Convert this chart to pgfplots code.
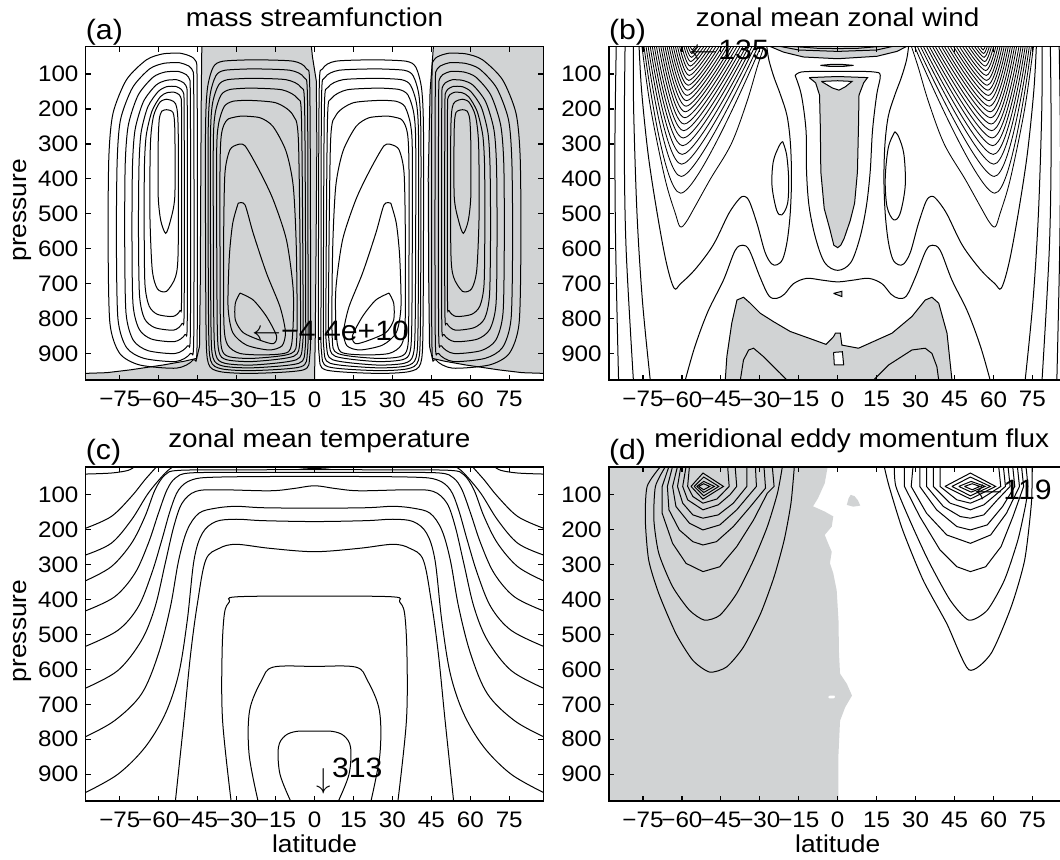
\documentclass[border=0pt]{standalone}
\usepackage{fontspec}
\setmainfont{Liberation Sans}[FakeStretch=1.08]
\usepackage{pgfplots}
\pgfplotsset{compat=1.18}
\definecolor{shade}{RGB}{209,211,212}
\newcommand\tickf{\fontsize{11.2}{13}\selectfont}
\newcommand\labf{\fontsize{12.2}{14}\selectfont}
\newcommand\titf{\fontsize{12.9}{15}\selectfont}
\newcommand\tagf{\fontsize{14}{16}\selectfont}
\newcommand\annf{\fontsize{14}{16}\selectfont}
\pgfplotsset{
  panel/.style={
    scale only axis, width=229pt, height=166.75pt, anchor=south west,
    xmin=-88.2, xmax=88.2, ymin=21, ymax=976, y dir=reverse,
    xtick={-75,-60,-45,-30,-15,0,15,30,45,60,75},
    xticklabels={−75,−60,−45,−30,−15,0,15,30,45,60,75},
    ytick={100,200,300,400,500,600,700,800,900},
    tick align=inside, major tick length=2.6pt,
    axis line style={line width=0.9pt},
    every tick/.style={black, line width=0.6pt},
    ticklabel style={font=\tickf},
    xticklabel style={yshift=-2.2pt},
    /pgf/number format/assume math mode=true,
    axis on top,
  },
  cl/.style={black, line width=0.5pt, smooth, tension=0.55, mark=none},
  cj/.style={black, line width=0.42pt, smooth, tension=0.55, mark=none},
  pl/.style={black, line width=0.5pt, sharp plot, mark=none},
  gf/.style={fill=shade, draw=none, mark=none},
  gfd/.style={fill=shade, draw=black, line width=0.5pt, mark=none},
  wf/.style={fill=white, draw=black, line width=0.5pt, mark=none},
}
\begin{document}
\begin{tikzpicture}
\path[use as bounding box] (0,0) rectangle (530pt,429.5pt);
% ================= (a) =================
\begin{axis}[panel, at={(42.75pt,239.5pt)}, cl/.append style={tension=0.45}]
\addplot[gf] coordinates {(-88.2,976) (-88.2,957) (-80,955) (-71,947) (-58.3,933) (-50,922) (-45.4,914) (-44.3,880) (-44,700) (-43.8,400) (-43.6,150) (-43.4,21) (-1.2,21) (-0.8,50) (0.7,120) (0.9,300) (0.6,600) (0.3,850) (0,976)};
\addplot[gf] coordinates {(45.8,21) (88.2,21) (88.2,957) (80,955) (71,947) (58.3,933) (50,922) (45.4,914) (44.3,880) (44,700) (43.8,400) (44.5,150) (45.8,21)};
\addplot[pl] coordinates {(-88.2,957) (-80,955) (-71,947) (-58.3,933) (-50,922) (-45.4,914) (-44.3,880) (-44,700) (-43.8,400) (-43.6,150) (-43.4,21)};
\addplot[pl] coordinates {(-1.2,21) (-0.8,50) (0.7,120) (0.9,300) (0.6,600) (0.3,850) (0,976)};
\addplot[pl] coordinates {(88.2,957) (80,955) (71,947) (58.3,933) (50,922) (45.4,914) (44.3,880) (44,700) (43.8,400) (44.5,150) (45.8,21)};
% southern positive cell
\addplot[cl] coordinates {(-51.9,40) (-46.1,59) (-45.2,145) (-45.2,861) (-46.7,918) (-53.1,942) (-67.3,933) (-75,900) (-78.8,813) (-79.5,575) (-79.2,336) (-77.6,212) (-72.4,116) (-64.7,59) (-58.3,42) (-51.9,40)};
\addplot[cl] coordinates {(-52.3,67) (-47.3,85) (-46.5,166) (-46.5,846) (-47.8,900) (-53.4,923) (-65.7,914) (-72.4,883) (-75.7,801) (-76.3,575) (-76,348) (-74.7,230) (-70.1,139) (-63.5,85) (-57.9,69) (-52.3,67)};
\addplot[cl] coordinates {(-52.7,92) (-48.5,109) (-47.8,186) (-47.8,827) (-48.9,878) (-53.6,900) (-64.1,892) (-69.8,862) (-72.6,784) (-73.1,571) (-72.9,357) (-71.7,246) (-67.9,160) (-62.2,109) (-57.5,94) (-52.7,92)};
\addplot[cl] coordinates {(-53.2,116) (-49.6,132) (-49,203) (-49,799) (-49.9,846) (-53.9,866) (-62.7,859) (-67.5,831) (-69.9,759) (-70.3,561) (-70.1,362) (-69.1,259) (-65.9,179) (-61.1,132) (-57.1,118) (-53.2,116)};
\addplot[cl] coordinates {(-53.6,135) (-50.7,150) (-50.2,216) (-50.2,770) (-51,814) (-54.2,833) (-61.5,826) (-65.5,800) (-67.4,733) (-67.8,549) (-67.6,364) (-66.8,268) (-64.2,194) (-60.2,150) (-56.9,136) (-53.6,135)};
\addplot[cl] coordinates {(-54,152) (-51.6,165) (-51.2,226) (-51.2,736) (-51.8,777) (-54.5,794) (-60.5,788) (-63.7,764) (-65.3,702) (-65.6,533) (-65.5,363) (-64.8,275) (-62.6,206) (-59.4,165) (-56.7,153) (-54,152)};
\addplot[cl] coordinates {(-57,172) (-53.5,185) (-52.5,260) (-52.5,600) (-53.5,680) (-57,722) (-60.5,715) (-62.5,660) (-63.4,500) (-63.2,300) (-62,220) (-59.5,180) (-57,172)};
\addplot[cl] coordinates {(-57,202) (-54.5,210) (-53.8,260) (-53.8,450) (-55.5,520) (-57.3,556) (-59.2,520) (-60.2,450) (-60.2,300) (-59.8,230) (-58.8,206) (-57,202)};
% northern negative cell
\addplot[cl] coordinates {(51.9,40) (46.1,59) (45.2,145) (45.2,861) (46.7,918) (53.1,942) (67.3,933) (75,900) (78.8,813) (79.5,575) (79.2,336) (77.6,212) (72.4,116) (64.7,59) (58.3,42) (51.9,40)};
\addplot[cl] coordinates {(52.3,67) (47.3,85) (46.5,166) (46.5,846) (47.8,900) (53.4,923) (65.7,914) (72.4,883) (75.7,801) (76.3,575) (76,348) (74.7,230) (70.1,139) (63.5,85) (57.9,69) (52.3,67)};
\addplot[cl] coordinates {(52.7,92) (48.5,109) (47.8,186) (47.8,827) (48.9,878) (53.6,900) (64.1,892) (69.8,862) (72.6,784) (73.1,571) (72.9,357) (71.7,246) (67.9,160) (62.2,109) (57.5,94) (52.7,92)};
\addplot[cl] coordinates {(53.2,116) (49.6,132) (49,203) (49,799) (49.9,846) (53.9,866) (62.7,859) (67.5,831) (69.9,759) (70.3,561) (70.1,362) (69.1,259) (65.9,179) (61.1,132) (57.1,118) (53.2,116)};
\addplot[cl] coordinates {(53.6,135) (50.7,150) (50.2,216) (50.2,770) (51,814) (54.2,833) (61.5,826) (65.5,800) (67.4,733) (67.8,549) (67.6,364) (66.8,268) (64.2,194) (60.2,150) (56.9,136) (53.6,135)};
\addplot[cl] coordinates {(54,152) (51.6,165) (51.2,226) (51.2,736) (51.8,777) (54.5,794) (60.5,788) (63.7,764) (65.3,702) (65.6,533) (65.5,363) (64.8,275) (62.6,206) (59.4,165) (56.7,153) (54,152)};
\addplot[cl] coordinates {(57,172) (53.5,185) (52.5,260) (52.5,600) (53.5,680) (57,722) (60.5,715) (62.5,660) (63.4,500) (63.2,300) (62,220) (59.5,180) (57,172)};
\addplot[cl] coordinates {(57,202) (54.5,210) (53.8,260) (53.8,450) (55.5,520) (57.3,556) (59.2,520) (60.2,450) (60.2,300) (59.8,230) (58.8,206) (57,202)};
% southern tropical negative cell
\addplot[cl] coordinates {(-23.6,59) (-8.2,63) (-3.1,85) (-1.8,150) (-1.5,766) (-1.8,905) (-4.3,947) (-23.6,957) (-36.4,952) (-40.9,928) (-41.8,813) (-42,288) (-41.3,145) (-39,80) (-35.2,63) (-23.6,59)};
\addplot[cl] coordinates {(-24,85) (-9.5,89) (-4,110) (-2.7,175) (-2.5,760) (-2.7,895) (-5.2,938) (-23.6,949) (-35.8,944) (-40,920) (-40.8,810) (-41,300) (-40.3,165) (-38,105) (-34.5,89) (-24,85)};
\addplot[cl] coordinates {(-24.5,112) (-11,116) (-5.2,138) (-3.8,200) (-3.4,755) (-3.6,885) (-6,928) (-23.6,941) (-35.2,936) (-39.1,912) (-39.9,805) (-40.1,310) (-39.4,190) (-37,132) (-33.5,116) (-24.5,112)};
\addplot[cl] coordinates {(-25,140) (-12.5,145) (-6.5,170) (-5,230) (-4.4,750) (-4.6,875) (-7,918) (-23.6,933) (-34.6,928) (-38,904) (-38.8,800) (-39,320) (-38.3,215) (-36,160) (-32.5,144) (-25,140)};
\addplot[cl] coordinates {(-26,175) (-15,182) (-8.5,215) (-6.2,290) (-5.4,745) (-5.6,865) (-8,908) (-23.6,923) (-33.8,918) (-36.8,895) (-37.5,795) (-37.7,340) (-37,245) (-34.8,193) (-31.5,178) (-26,175)};
\addplot[cl] coordinates {(-28,220) (-21,225) (-16,250) (-11,320) (-8.2,420) (-7,600) (-6.8,850) (-9,900) (-23.6,914) (-33,909) (-35.8,885) (-36.3,790) (-36.4,380) (-35.8,270) (-33.5,230) (-28,220)};
\addplot[cl] coordinates {(-30,303) (-26.8,305) (-21,380) (-15.9,460) (-10.8,575) (-8.2,718) (-8.4,842) (-10,895) (-18.5,904) (-28.7,900) (-33.5,875) (-34.9,813) (-35,575) (-34.5,384) (-32.6,317) (-30,303)};
\addplot[cl] coordinates {(-29.4,470) (-26.8,474) (-23.6,556) (-18.5,670) (-13.3,766) (-11.2,838) (-12.5,878) (-17.5,890) (-26.2,876) (-31.5,840) (-33.3,766) (-32.8,622) (-31.5,527) (-29.4,470)};
\addplot[cl] coordinates {(-28.7,727) (-23.6,747) (-18.5,794) (-14.6,850) (-15.9,872) (-21,862) (-27.5,840) (-30.5,804) (-30.5,756) (-28.7,727)};
% northern tropical positive cell
\addplot[cl] coordinates {(23.6,59) (8.2,63) (3.1,85) (1.8,150) (1.5,766) (1.8,905) (4.3,947) (23.6,957) (36.4,952) (40.9,928) (41.8,813) (42,288) (41.3,145) (39,80) (35.2,63) (23.6,59)};
\addplot[cl] coordinates {(24,85) (9.5,89) (4,110) (2.7,175) (2.5,760) (2.7,895) (5.2,938) (23.6,949) (35.8,944) (40,920) (40.8,810) (41,300) (40.3,165) (38,105) (34.5,89) (24,85)};
\addplot[cl] coordinates {(24.5,112) (11,116) (5.2,138) (3.8,200) (3.4,755) (3.6,885) (6,928) (23.6,941) (35.2,936) (39.1,912) (39.9,805) (40.1,310) (39.4,190) (37,132) (33.5,116) (24.5,112)};
\addplot[cl] coordinates {(25,140) (12.5,145) (6.5,170) (5,230) (4.4,750) (4.6,875) (7,918) (23.6,933) (34.6,928) (38,904) (38.8,800) (39,320) (38.3,215) (36,160) (32.5,144) (25,140)};
\addplot[cl] coordinates {(26,175) (15,182) (8.5,215) (6.2,290) (5.4,745) (5.6,865) (8,908) (23.6,923) (33.8,918) (36.8,895) (37.5,795) (37.7,340) (37,245) (34.8,193) (31.5,178) (26,175)};
\addplot[cl] coordinates {(28,220) (21,225) (16,250) (11,320) (8.2,420) (7,600) (6.8,850) (9,900) (23.6,914) (33,909) (35.8,885) (36.3,790) (36.4,380) (35.8,270) (33.5,230) (28,220)};
\addplot[cl] coordinates {(30,303) (26.8,305) (21,380) (15.9,460) (10.8,575) (8.2,718) (8.4,842) (10,895) (18.5,904) (28.7,900) (33.5,875) (34.9,813) (35,575) (34.5,384) (32.6,317) (30,303)};
\addplot[cl] coordinates {(29.4,470) (26.8,474) (23.6,556) (18.5,670) (13.3,766) (11.2,838) (12.5,878) (17.5,890) (26.2,876) (31.5,840) (33.3,766) (32.8,622) (31.5,527) (29.4,470)};
\addplot[cl] coordinates {(28.7,727) (23.6,747) (18.5,794) (14.6,850) (15.9,872) (21,862) (27.5,840) (30.5,804) (30.5,756) (28.7,727)};
\coordinate (a-tl) at (axis description cs:0,1);
\coordinate (a-tc) at (axis description cs:0.5,1);
\coordinate (a-ml) at (axis description cs:0,0.5);
\coordinate (a-ann) at (axis cs:-24.1,835);
\end{axis}
\node[anchor=base west, inner sep=0, font=\tagf] at ([yshift=3.7pt]a-tl) {(a)};
\node[anchor=base, inner sep=0, font=\titf] at ([yshift=9.85pt]a-tc) {mass streamfunction};
\node[anchor=base, inner sep=0, rotate=90, font=\labf] at ([xshift=-29.25pt,yshift=1.5pt]a-ml) {pressure};
\node[anchor=west, inner sep=0, font=\annf] at (a-ann) {$\leftarrow$−4.4e+10};
% ================= (b) =================
\begin{axis}[panel, at={(304.35pt,239.5pt)}]
\addplot[gfd] coordinates {(-26,21) (-20.9,37) (-13.2,51) (0,56) (15.1,49) (22.8,35) (26.5,21)};
\addplot[pl] coordinates {(-22,21) (-15,31) (0,35) (15,31) (21,21)};
\addplot[pl] coordinates {(-17,21) (-8,26) (0,27) (8,26) (16,21)};
\addplot[gfd] coordinates {(-6.7,75) (-3,72.5) (2,72.5) (6.1,75) (2,78) (-3,78) (-6.7,75)};
\addplot[gfd] coordinates {(-11,110) (-4,108) (0,107) (4,108) (11.5,110) (10,125) (8.2,160) (8,250) (7.6,380) (6.5,470) (4.8,520) (2.5,570) (1.2,590) (0,597) (-1.5,590) (-3,545) (-5.2,485) (-6.5,380) (-6.7,250) (-7,160) (-8.5,125) (-11,110)};
\addplot[wf] coordinates {(-6.3,121) (0,119) (5.5,121) (3,136) (0.5,146) (-2,140) (-6.3,121)};
\addplot[gfd] coordinates {(-43.3,976) (-42.7,909) (-40.8,813) (-38.8,747) (-36.3,739) (-33.7,756) (-29.8,785) (-24.7,809) (-18.3,837) (-9.3,861) (-4.5,874) (-1.6,852) (-0.9,842) (1,842) (1.6,876) (8,885) (20.9,842) (28.6,794) (33.7,747) (36.3,739) (38.9,756) (42.1,842) (44,976)};
\addplot[pl] coordinates {(-37.5,976) (-36.3,919) (-34.3,890) (-32.4,885) (-28.6,909) (-22.1,957) (-19.6,976)};
\addplot[pl] coordinates {(13.8,976) (19.6,933) (28.6,890) (33.7,885) (36.3,900) (38.2,938) (38.9,976)};
\addplot[wf] coordinates {(-1.6,897) (1.8,895) (2.3,933) (-1.3,933) (-1.6,897)};
\addplot[gfd] coordinates {(-1.6,728) (1.6,722) (1.6,737) (-1.6,728)};
% near-pole lines
\addplot[cl] coordinates {(-85.3,21) (-85.8,300) (-85.5,600) (-84.4,976)};
\addplot[cl] coordinates {(-81.9,21) (-82.2,300) (-81.5,600) (-78.7,976)};
\addplot[cl] coordinates {(-78.7,21) (-78.6,200) (-77.3,500) (-75.2,750) (-72.2,976)};
\addplot[cl] coordinates {(85.3,21) (85.8,300) (85.5,600) (84.4,976)};
\addplot[cl] coordinates {(81.9,21) (82.2,300) (81.5,600) (78.7,976)};
\addplot[cl] coordinates {(78.7,21) (78.6,200) (77.3,500) (75.2,750) (72.2,976)};
% wavy lines
\addplot[cl] coordinates {(-76.5,21) (-75.5,150) (-73,330) (-69.5,500) (-66,640) (-63,713) (-60.5,700) (-55,660) (-48,590) (-42,500) (-38,458) (-36,450) (-34,465) (-31,530) (-28,610) (-25.5,643) (-23.4,646) (-21.2,630) (-19.5,580) (-18.3,500) (-17.8,400) (-18.2,300) (-19.5,220) (-22,160) (-24.5,110) (-26.5,60) (-27.3,21)};
\addplot[cl] coordinates {(76.5,21) (75.5,150) (73,330) (69.5,500) (66,640) (63,713) (60.5,700) (55,660) (48,590) (42,500) (38,458) (36,450) (34,465) (31,530) (28,610) (25.5,643) (23.4,646) (21.2,630) (19.5,580) (18.3,500) (17.8,400) (18.2,300) (19.5,220) (22,160) (24.5,110) (26.5,60) (27.3,21)};
\addplot[cl] coordinates {(-58.7,976) (-55,880) (-50,780) (-44,690) (-39.5,605) (-36.5,590) (-34,605) (-30,680) (-26.5,735) (-23.4,742) (-20.5,730) (-17,700) (-12,685) (-6,690) (0,695) (6,690) (12,685) (17,700) (20.5,730) (23.4,742) (26.5,735) (30,680) (34,605) (36.5,590) (39.5,605) (44,690) (50,780) (55,880) (58.7,976)};
\addplot[cl] coordinates {(-16.4,104) (-14,94) (-6,92) (0,92) (6,92) (14,94) (16.4,104) (15,160) (13.4,262) (12.5,380) (11,480) (8.5,570) (5,640) (0,662) (-5,640) (-8.5,570) (-11,480) (-12,380) (-12.2,262) (-14,160) (-16.4,104)};
\addplot[cl] coordinates {(-21.2,293) (-19.7,330) (-18.9,400) (-19.3,470) (-21.5,503) (-23.5,490) (-25.3,420) (-24.8,350) (-22.5,305) (-21.2,293)};
\addplot[cl] coordinates {(22,265) (19.5,310) (18.3,400) (19,480) (21.5,517) (24,500) (26,420) (25.5,330) (23.5,280) (22,265)};
% southern jet
\addplot[cj] coordinates {(-75.4,21) (-72,200) (-66.5,400) (-62.5,500) (-60.7,537) (-58.5,525) (-55,480) (-49,400) (-41,300) (-35,180) (-31,80) (-28.4,21)};
\addplot[cj] coordinates {(-74.6,21) (-60.5,441) (-29.6,21)};
\addplot[cj] coordinates {(-73.8,21) (-60.3,393) (-30.7,21)};
\addplot[cj] coordinates {(-73,21) (-60.1,358) (-31.9,21)};
\addplot[cj] coordinates {(-72.2,21) (-59.9,330) (-33,21)};
\addplot[cj] coordinates {(-71.4,21) (-59.7,305) (-34.2,21)};
\addplot[cj] coordinates {(-70.6,21) (-59.5,283) (-35.3,21)};
\addplot[cj] coordinates {(-69.8,21) (-59.3,262) (-36.5,21)};
\addplot[cj] coordinates {(-68.9,21) (-59.1,243) (-37.6,21)};
\addplot[cj] coordinates {(-68.1,21) (-58.9,225) (-38.8,21)};
\addplot[cj] coordinates {(-67.3,21) (-58.7,208) (-40,21)};
\addplot[cj] coordinates {(-66.5,21) (-58.4,192) (-41.1,21)};
\addplot[cj] coordinates {(-65.7,21) (-58.2,176) (-42.3,21)};
\addplot[cj] coordinates {(-64.9,21) (-58,161) (-43.4,21)};
\addplot[cj] coordinates {(-64.1,21) (-57.8,146) (-44.6,21)};
\addplot[cj] coordinates {(-63.3,21) (-57.6,132) (-45.7,21)};
\addplot[cj] coordinates {(-62.5,21) (-57.4,118) (-46.9,21)};
\addplot[cj] coordinates {(-61.7,21) (-57.2,104) (-48.1,21)};
\addplot[cj] coordinates {(-60.9,21) (-57,90) (-49.2,21)};
\addplot[cj] coordinates {(-60,21) (-56.8,77) (-50.4,21)};
\addplot[cj] coordinates {(-59.2,21) (-56.6,64) (-51.5,21)};
\addplot[cj] coordinates {(-58.4,21) (-56.4,52) (-52.7,21)};
\addplot[cj] coordinates {(-57.6,21) (-56.2,41) (-53.8,21)};
\addplot[cj] coordinates {(-56.8,21) (-56,31) (-55,21)};
% northern jet
\addplot[cj] coordinates {(75.4,21) (72,200) (66.5,400) (62.5,500) (60.7,537) (58.5,525) (55,480) (49,400) (41,300) (35,180) (31,80) (28.4,21)};
\addplot[cj] coordinates {(74.6,21) (60.5,441) (29.6,21)};
\addplot[cj] coordinates {(73.8,21) (60.3,393) (30.7,21)};
\addplot[cj] coordinates {(73,21) (60.1,358) (31.9,21)};
\addplot[cj] coordinates {(72.2,21) (59.9,330) (33,21)};
\addplot[cj] coordinates {(71.4,21) (59.7,305) (34.2,21)};
\addplot[cj] coordinates {(70.6,21) (59.5,283) (35.3,21)};
\addplot[cj] coordinates {(69.8,21) (59.3,262) (36.5,21)};
\addplot[cj] coordinates {(68.9,21) (59.1,243) (37.6,21)};
\addplot[cj] coordinates {(68.1,21) (58.9,225) (38.8,21)};
\addplot[cj] coordinates {(67.3,21) (58.7,208) (40,21)};
\addplot[cj] coordinates {(66.5,21) (58.4,192) (41.1,21)};
\addplot[cj] coordinates {(65.7,21) (58.2,176) (42.3,21)};
\addplot[cj] coordinates {(64.9,21) (58,161) (43.4,21)};
\addplot[cj] coordinates {(64.1,21) (57.8,146) (44.6,21)};
\addplot[cj] coordinates {(63.3,21) (57.6,132) (45.7,21)};
\addplot[cj] coordinates {(62.5,21) (57.4,118) (46.9,21)};
\addplot[cj] coordinates {(61.7,21) (57.2,104) (48.1,21)};
\addplot[cj] coordinates {(60.9,21) (57,90) (49.2,21)};
\addplot[cj] coordinates {(60,21) (56.8,77) (50.4,21)};
\addplot[cj] coordinates {(59.2,21) (56.6,64) (51.5,21)};
\addplot[cj] coordinates {(58.4,21) (56.4,52) (52.7,21)};
\addplot[cj] coordinates {(57.6,21) (56.2,41) (53.8,21)};
\addplot[cj] coordinates {(56.8,21) (56,31) (55,21)};
\coordinate (b-tl) at (axis description cs:0,1);
\coordinate (b-tc) at (axis description cs:0.5,1);
\coordinate (b-ann) at (axis cs:-57.2,30);
\end{axis}
\node[anchor=base west, inner sep=0, font=\tagf] at ([yshift=3.7pt]b-tl) {(b)};
\node[anchor=base, inner sep=0, font=\titf] at ([yshift=9.85pt]b-tc) {zonal mean zonal wind};
\node[anchor=west, inner sep=0, font=\annf] at (b-ann) {$\leftarrow$135};
% ================= (c) =================
\begin{axis}[panel, at={(42.75pt,29.15pt)}]
\addplot[cl] coordinates {(-88.2,40.6) (-78.3,37.7) (-71.8,30.1) (-69.2,18.6)};
\addplot[cl] coordinates {(88.2,40.6) (78.3,37.7) (71.8,30.1) (69.2,18.6)};
\addplot[cl] coordinates {(-9.4,18.6) (-4.2,23.4) (0,24.3) (4.3,23.4) (9.5,18.6)};
\addplot[cl] coordinates {(-88.2,195.8) (-78.3,162.3) (-70.5,104.8) (-65.3,56.9) (-60.7,18.6)};
\addplot[cl] coordinates {(88.2,195.8) (78.3,162.3) (70.5,104.8) (65.3,56.9) (60.7,18.6)};
\addplot[cl] coordinates {(-88.2,272.4) (-78.3,238.9) (-70.5,171.9) (-64,95.2) (-57.5,37.7) (-54.2,18.6)};
\addplot[cl] coordinates {(88.2,272.4) (78.3,238.9) (70.5,171.9) (64,95.2) (57.5,37.7) (54.2,18.6)};
\addplot[cl] coordinates {(-88.2,346.2) (-78.3,306) (-70.5,238.9) (-65.3,162.3) (-61.4,85.6) (-57.5,42.5) (-52.3,30.1) (-30,28.5) (0,28.2) (30,28.5) (52.3,30.1) (57.5,42.5) (61.4,85.6) (65.3,162.3) (70.5,238.9) (78.3,306) (88.2,346.2)};
\addplot[cl] coordinates {(-88.2,432.4) (-77,392.2) (-69.2,325.1) (-64,238.9) (-60.1,152.7) (-56.8,85.6) (-53.6,52.1) (-48.4,37.7) (-30,36) (0,35.8) (30,36) (48.4,37.7) (53.6,52.1) (56.8,85.6) (60.1,152.7) (64,238.9) (69.2,325.1) (77,392.2) (88.2,432.4)};
\addplot[cl] coordinates {(-88.2,534) (-75.7,488) (-67.9,420.9) (-62.7,325.1) (-58.8,229.3) (-55.5,143.1) (-52.3,85.6) (-47.1,56.9) (-36.7,49.2) (0,47.3) (36.7,49.2) (47.1,56.9) (52.3,85.6) (55.5,143.1) (58.8,229.3) (62.7,325.1) (67.9,420.9) (75.7,488) (88.2,534)};
\addplot[cl] coordinates {(-88.2,653.7) (-75.7,603) (-66.6,516.7) (-61.4,420.9) (-57.5,296.4) (-54.2,191) (-51,124) (-45.8,90.4) (-36.7,85.6) (-17.2,88.5) (-8,82) (0,74.1) (8,82) (17.2,88.5) (36.7,85.6) (45.8,90.4) (51,124) (54.2,191) (57.5,296.4) (61.4,420.9) (66.6,516.7) (75.7,603) (88.2,653.7)};
\addplot[cl] coordinates {(-88.2,792.6) (-77,746.7) (-66.6,670) (-60.1,555) (-55.5,420.9) (-52.3,286.8) (-49,200.6) (-44.5,152.7) (-38,138.3) (-30.2,133) (-20,137) (0,138.3) (20,137) (30.2,133) (38,138.3) (44.5,152.7) (49,200.6) (52.3,286.8) (55.5,420.9) (60.1,555) (66.6,670) (77,746.7) (88.2,792.6)};
\addplot[cl] coordinates {(-88.2,952.6) (-75.7,900) (-65.3,823.3) (-57.5,727.5) (-52.3,612.5) (-49,459.3) (-46.4,286.8) (-43.2,210.2) (-38,176.6) (-30.2,170) (-20,174) (0,176.6) (20,174) (30.2,170) (38,176.6) (43.2,210.2) (46.4,286.8) (49,459.3) (52.3,612.5) (57.5,727.5) (65.3,823.3) (75.7,900) (88.2,952.6)};
\addplot[cl] coordinates {(-53.6,978.5) (-50.3,746.7) (-47.7,555) (-45.1,411.4) (-41.9,286.8) (-36.7,253.3) (-30.2,241.8) (-17.2,253.3) (0,262.9) (17.2,253.3) (30.2,241.8) (36.7,253.3) (41.9,286.8) (45.1,411.4) (47.7,555) (50.3,746.7) (53.6,978.5)};
\addplot[cl] coordinates {(-32.1,978.5) (-35.4,746.7) (-35.6,555) (-34.7,440.1) (-32.8,406.6) (-30.2,392.2) (0,390) (30.2,392.2) (32.8,406.6) (34.7,440.1) (35.6,555) (35.4,746.7) (32.1,978.5)};
\addplot[cl] coordinates {(-21.7,978.5) (-25.2,842.5) (-25,717.9) (-20.4,631.7) (-15.9,593.4) (0,591.5) (15.9,593.4) (20.4,631.7) (25,717.9) (25.2,842.5) (21.7,978.5)};
\addplot[cl] coordinates {(-9.1,978.5) (-13.3,900) (-13.9,823.3) (-11.3,789.8) (-6.8,777.3) (0,777) (6.8,777.3) (11.3,789.8) (13.9,823.3) (13.3,900) (9.1,978.5)};
\coordinate (c-tl) at (axis description cs:0,1);
\coordinate (c-tc) at (axis description cs:0.5,1);
\coordinate (c-ml) at (axis description cs:0,0.5);
\coordinate (c-bc) at (axis description cs:0.5,0);
\coordinate (c-txt) at (axis cs:6.6,909);
\coordinate (c-arr) at (axis cs:3.6,958);
\end{axis}
\node[anchor=base west, inner sep=0, font=\tagf] at ([yshift=3.7pt]c-tl) {(c)};
\node[anchor=base, inner sep=0, font=\titf] at ([xshift=2.4pt,yshift=9.85pt]c-tc) {zonal mean temperature};
\node[anchor=base, inner sep=0, rotate=90, font=\labf] at ([xshift=-29.25pt,yshift=1.5pt]c-ml) {pressure};
\node[anchor=base, inner sep=0, font=\labf] at ([yshift=-25.65pt]c-bc) {latitude};
\node[anchor=base west, inner sep=0, font=\annf] at (c-txt) {313};
\node[anchor=south, inner sep=0, font=\annf] at (c-arr) {$\downarrow$};
% ================= (d) =================
\begin{axis}[panel, at={(304.35pt,29.15pt)}]
\addplot[gf] coordinates {(-88.2,976) (-88.2,21) (-3.9,21) (-5,67) (-7.6,110) (-9.5,133) (-5,148) (-1.7,162) (-2.3,191) (-5,215) (-3.7,239) (-2.3,263) (-3,296) (-1.7,325) (-0.4,373) (0.3,459) (0.5,555) (0.9,612) (3.5,641) (5.5,675) (2.9,708) (0.9,747) (0.3,842) (0.3,976)};
\addplot[gf] coordinates {(3.5,129) (4.2,110) (5,100) (6.5,104) (7.8,116) (8.7,131) (6,134) (3.5,129)};
\addplot[fill=white, draw=none, mark=none] coordinates {(-3.7,679) (-3,675) (-1.3,675) (-1,679) (-1.6,683) (-3.2,683) (-3.7,679)};
% southern (negative) contours
\addplot[cl, tension=0.4] coordinates {(-68.2,18.6) (-73.4,76) (-74.1,172) (-72.8,287) (-68.9,383) (-62.3,497.6) (-55.8,574) (-49.3,607.7) (-42.8,593) (-36.3,536) (-29.7,440) (-24.5,334.7) (-20.6,229) (-18,124) (-16.7,18.6)};
\addplot[cl, tension=0.4] coordinates {(-66.3,18.6) (-70.2,76) (-70.8,172) (-68.9,268) (-63.6,363) (-57.1,430.5) (-51.3,459) (-45.4,445) (-38.9,382.6) (-32.4,286.8) (-27.1,191) (-23.2,95.2) (-21.3,18.6)};
\addplot[pl] coordinates {(-65,18.6) (-67.6,76) (-67.6,153) (-63.6,239) (-58.4,296.4) (-51.9,320) (-45.4,306) (-38.9,248.5) (-32.4,171.9) (-27.1,95.2) (-24.5,76) (-25.2,18.6)};
\addplot[pl] coordinates {(-63.6,18.6) (-65.6,76) (-65,143) (-61,200.6) (-55.8,234.2) (-51.9,243.7) (-46.7,234.2) (-40.2,191) (-33.6,133.5) (-27.8,80.8) (-28.4,18.6)};
\addplot[pl] coordinates {(-61.7,18.6) (-63.6,76) (-62.3,133.5) (-57.1,181.4) (-51.9,200.6) (-45.4,186.2) (-38.9,143.1) (-32.4,85.6) (-31.3,76) (-31.7,18.6)};
\addplot[pl] coordinates {(-60.4,18.6) (-61.7,76) (-59.7,124) (-55.8,157.5) (-51.9,167) (-46,157.5) (-40.2,124) (-35,76) (-35,18.6)};
\addplot[pl] coordinates {(-58.4,18.6) (-59.7,76) (-57.8,114.4) (-51.9,143.1) (-46,128.7) (-41.5,100) (-38.9,76) (-39.5,18.6)};
\addplot[pl] coordinates {(-57.1,18.6) (-57.8,76) (-55.8,104.8) (-51.9,124) (-46.5,112) (-41.8,76) (-42.4,18.6)};
\addplot[pl] coordinates {(-56.5,76) (-51.9,37.7) (-44,76) (-51.9,112.5) (-56.5,76)};
\addplot[pl] coordinates {(-55.3,76) (-51.6,49.2) (-45.8,76) (-51.6,102.9) (-55.3,76)};
\addplot[pl] coordinates {(-54.3,76) (-51.6,61.7) (-47.5,76) (-51.6,93.3) (-54.3,76)};
\addplot[pl] coordinates {(-53.6,76) (-51.6,68.4) (-49.3,76) (-51.6,85.6) (-53.6,76)};
% northern (positive) contours
\addplot[cl, tension=0.4] coordinates {(17.9,18.6) (19.8,76) (25,200.6) (32.9,344.3) (42,468.8) (50.5,601) (59,555) (66.8,421) (72,287) (74.6,124) (74.9,18.6)};
\addplot[cl, tension=0.4] coordinates {(21.8,18.6) (22.4,76) (27.7,171.9) (34.8,286.8) (43.3,401.8) (50.5,459) (57.6,430.5) (64.2,344.3) (69.4,229.3) (72.5,124) (73.2,76) (72.5,18.6)};
\addplot[pl] coordinates {(25.7,18.6) (25.7,76) (31.6,162.3) (39.4,258) (45.9,306) (51.1,320) (57,306) (62.9,248.5) (67.5,162.3) (71.6,76) (70.8,18.6)};
\addplot[pl] coordinates {(29,18.6) (28.3,76) (34.2,152.7) (42,215) (51.1,239) (58.9,215) (65,152.7) (70,76) (69.2,18.6)};
\addplot[pl] coordinates {(31.6,18.6) (31.6,76) (38.1,143.1) (45.9,191) (51.1,200.6) (57.6,186.2) (63.5,133.5) (68.2,76) (67.4,18.6)};
\addplot[pl] coordinates {(34.2,18.6) (34.2,76) (40.7,133.5) (47.2,162.3) (51.1,167) (56.3,157.5) (61.5,114.4) (66.4,76) (65.6,18.6)};
\addplot[pl] coordinates {(36.8,18.6) (36.8,76) (43.3,124) (51.1,143.1) (56.3,128.7) (64.6,76) (63.8,18.6)};
\addplot[pl] coordinates {(39.4,18.6) (39.4,76) (45.9,114.4) (51.1,124) (55.7,109.6) (62.8,76) (62,18.6)};
\addplot[pl] coordinates {(41.3,76) (51.1,37.7) (60.8,76) (51.1,112) (41.3,76)};
\addplot[pl] coordinates {(44,76) (51.1,49.2) (58.8,76) (51.1,102.9) (44,76)};
\addplot[pl] coordinates {(46.6,76) (51.4,61.7) (56.8,76) (51.4,92.3) (46.6,76)};
\addplot[pl] coordinates {(48.8,76) (51.8,68.4) (54.8,76) (51.8,85.6) (48.8,76)};
\coordinate (d-tl) at (axis description cs:0,1);
\coordinate (d-tc) at (axis description cs:0.5,1);
\coordinate (d-bc) at (axis description cs:0.5,0);
\coordinate (d-ann) at (axis cs:52.6,86);
\end{axis}
\node[anchor=base west, inner sep=0, font=\tagf] at ([yshift=3.7pt]d-tl) {(d)};
\node[anchor=base, inner sep=0, font=\titf] at ([xshift=7pt,yshift=9.85pt]d-tc) {meridional eddy momentum flux};
\node[anchor=base, inner sep=0, font=\labf] at ([yshift=-25.65pt]d-bc) {latitude};
\node[anchor=west, inner sep=0, font=\annf] at (d-ann) {$\leftarrow$119};
\end{tikzpicture}
\end{document}
